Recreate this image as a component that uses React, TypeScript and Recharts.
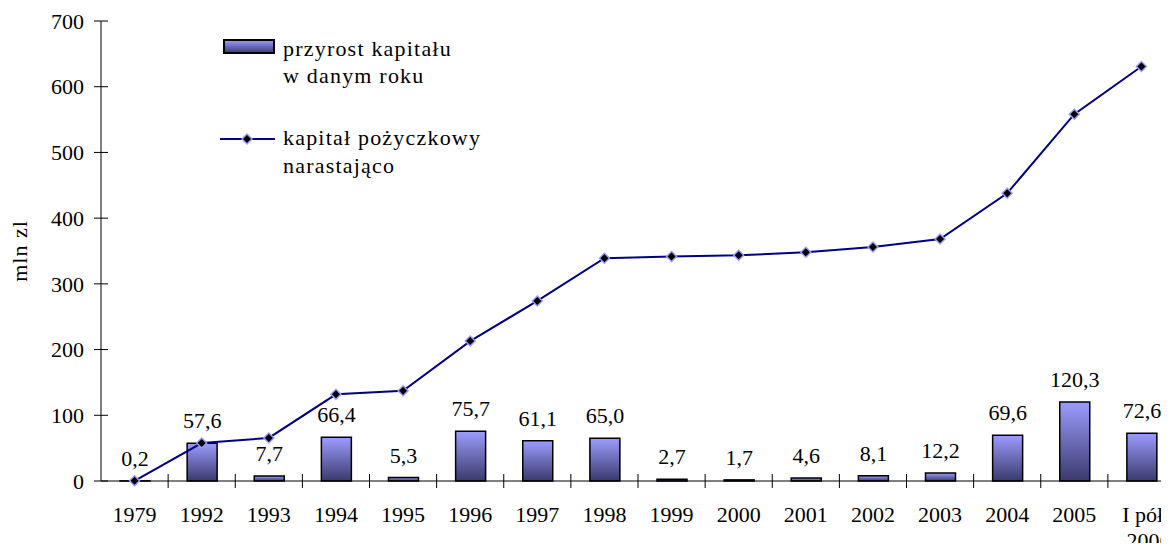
import React from 'react';
import { ComposedChart, Bar, Line, XAxis, YAxis, Legend, LabelList } from 'recharts';

const categories = ['1979', '1992', '1993', '1994', '1995', '1996', '1997', '1998', '1999', '2000', '2001', '2002', '2003', '2004', '2005', 'I półr.|2006'];
const increments = [0.2, 57.6, 7.7, 66.4, 5.3, 75.7, 61.1, 65.0, 2.7, 1.7, 4.6, 8.1, 12.2, 69.6, 120.3, 72.6];
const cumulative = [0.2, 57.8, 65.5, 131.9, 137.2, 212.9, 274.0, 339.0, 341.7, 343.4, 348.0, 356.1, 368.3, 437.9, 558.2, 630.8];
const yTicks = [0, 100, 200, 300, 400, 500, 600, 700];
const yLabel = 'mln zl';

const data = categories.map((c, i) => ({ cat: c, inc: increments[i], cum: cumulative[i] }));

const FONT = '"Liberation Serif", "Times New Roman", serif';
const W = 1180;
const H = 551;
const M = { top: 21, right: 5, left: 0, bottom: 0 };
const YW = 101;
const XH = 70;
const BAND = (W - M.left - M.right - YW) / categories.length;

const YTick = (props: any) => {
  const { x, y, payload } = props;
  const ax = x + 17;
  return (
    <g>
      <line x1={ax - 7} x2={ax + 7} y1={y} y2={y} stroke="#000" strokeWidth={1} />
      <text x={x} y={y} dy="0.35em" textAnchor="end" fontFamily={FONT} fontSize={22} fill="#000">
        {payload.value}
      </text>
    </g>
  );
};

const XTick = (props: any) => {
  const { x, y, payload, index } = props;
  const ay = y - 25;
  const lines = String(payload.value).split('|');
  const bx = x - BAND / 2;
  const tx = lines.length > 1 ? x + 7 : x;
  return (
    <g>
      {index > 0 && <line x1={bx} x2={bx} y1={ay - 7} y2={ay + 7} stroke="#000" strokeWidth={1} />}
      <text x={tx} y={y} textAnchor="middle" fontFamily={FONT} fontSize={22} fill="#000">
        {lines.map((l, i) => (
          <tspan key={i} x={tx} dy={i === 0 ? '0.71em' : '1.2em'}>{l}</tspan>
        ))}
      </text>
    </g>
  );
};

const YLabel = (props: any) => {
  const vb = props.viewBox || {};
  const cx = (vb.x ?? 0) + 19;
  const cy = (vb.y ?? 0) + (vb.height ?? 0) / 2;
  return (
    <text
      x={cx}
      y={cy}
      transform={`rotate(-90 ${cx} ${cy})`}
      textAnchor="middle"
      dominantBaseline="central"
      fontFamily={FONT}
      fontSize={22}
      letterSpacing={1}
      fill="#000"
    >
      {yLabel}
    </text>
  );
};

const Diamond = (props: any) => {
  const { cx, cy } = props;
  if (cx == null || cy == null) return null;
  return (
    <g>
      <polygon points={`${cx},${cy - 6} ${cx + 6},${cy} ${cx},${cy + 6} ${cx - 6},${cy}`} fill="#9999ff" />
      <polygon points={`${cx},${cy - 4} ${cx + 4},${cy} ${cx},${cy + 4} ${cx - 4},${cy}`} fill="#000" />
    </g>
  );
};

const LegendContent = () => (
  <svg width={320} height={160} style={{ overflow: 'visible' }}>
    <defs>
      <linearGradient id="legGrad" x1="0" y1="0" x2="0" y2="1">
        <stop offset="0%" stopColor="#9c9cff" />
        <stop offset="100%" stopColor="#3a3a6c" />
      </linearGradient>
    </defs>
    <rect x={9} y={15} width={50} height={13} fill="url(#legGrad)" stroke="#000" strokeWidth={2} />
    <text x={68} y={31} fontFamily={FONT} fontSize={22} letterSpacing={1.2} fill="#000">przyrost kapitału</text>
    <text x={68} y={58} fontFamily={FONT} fontSize={22} letterSpacing={1.2} fill="#000">w danym roku</text>
    <line x1={5} x2={60} y1={114} y2={114} stroke="#000080" strokeWidth={2} />
    <Diamond cx={32} cy={114} />
    <text x={68} y={120} fontFamily={FONT} fontSize={22} letterSpacing={1.2} fill="#000">kapitał pożyczkowy</text>
    <text x={68} y={148} fontFamily={FONT} fontSize={22} letterSpacing={1.2} fill="#000">narastająco</text>
  </svg>
);

const fmt = (v: any) => Number(v).toFixed(1).replace('.', ',');

export default function App() {
  return (
    <div style={{ margin: -8, width: 1169, height: 551, overflow: 'hidden', position: 'relative', background: '#fff' }}>
      <ComposedChart width={W} height={H} data={data} margin={M}>
        <defs>
          <linearGradient id="barGrad" x1="0" y1="0" x2="0" y2="1">
            <stop offset="0%" stopColor="#9c9cff" />
            <stop offset="100%" stopColor="#3a3a6c" />
          </linearGradient>
        </defs>
        <XAxis
          dataKey="cat"
          height={XH}
          interval={0}
          tickSize={7}
          tickMargin={18}
          tickLine={false}
          axisLine={{ stroke: '#000', strokeWidth: 1 }}
          tick={<XTick />}
        />
        <YAxis
          width={YW}
          domain={[0, 700]}
          ticks={yTicks}
          interval={0}
          tickSize={7}
          tickMargin={10}
          tickLine={false}
          axisLine={{ stroke: '#000', strokeWidth: 1 }}
          tick={<YTick />}
          label={<YLabel />}
        />
        <Legend
          layout="vertical"
          align="center"
          verticalAlign="middle"
          wrapperStyle={{ left: 215, top: 25, width: 320, height: 160 }}
          content={<LegendContent />}
        />
        <Bar dataKey="inc" barSize={30} fill="url(#barGrad)" stroke="#000" strokeWidth={1.5} isAnimationActive={false}>
          <LabelList dataKey="inc" position="top" offset={15} formatter={fmt} style={{ fontFamily: FONT, fontSize: 22, fill: '#000' }} />
        </Bar>
        <Line dataKey="cum" stroke="#000080" strokeWidth={2} dot={<Diamond />} activeDot={false} isAnimationActive={false} />
      </ComposedChart>
    </div>
  );
}
